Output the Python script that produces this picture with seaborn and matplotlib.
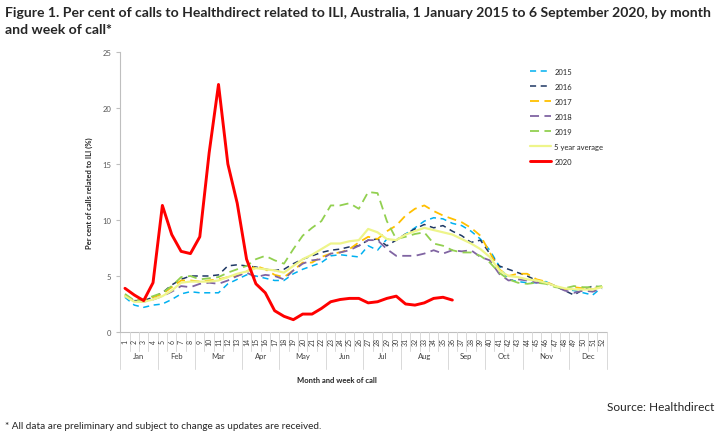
import numpy as np
import pandas as pd
import matplotlib.pyplot as plt
import seaborn as sns

weeks = list(range(1, 53))

y2015 = [3.1, 2.4, 2.2, 2.4, 2.5, 2.9, 3.4, 3.6, 3.5, 3.5, 3.5, 4.3, 4.7, 5.1, 5.0, 4.8,
         4.6, 4.6, 5.2, 5.6, 5.9, 6.2, 6.8, 6.9, 6.8, 6.7, 7.7, 7.3, 8.3, 8.2, 8.75, 9.3,
         9.9, 10.2, 10.1, 9.7, 9.5, 9.0, 8.3, 7.3, 5.9, 4.7, 4.5, 4.4, 4.4, 4.5, 4.1, 3.8,
         3.7, 3.5, 3.3, 4.0]
y2016 = [3.3, 2.8, 2.8, 3.1, 3.5, 4.2, 4.7, 5.0, 5.0, 5.0, 5.1, 5.9, 6.0, 5.9, 5.8, 5.6,
         5.5, 5.6, 6.1, 6.5, 6.8, 7.1, 7.3, 7.4, 7.6, 7.7, 8.2, 8.3, 7.7, 8.2, 8.75, 9.2,
         9.6, 9.3, 9.5, 9.0, 8.6, 8.0, 8.2, 7.0, 5.9, 5.6, 5.3, 5.0, 4.6, 4.4, 4.1, 3.7,
         3.3, 3.8, 4.1, 4.0]
y2017 = [3.3, 2.8, 2.9, 3.1, 3.4, 4.0, 4.6, 4.6, 4.5, 4.6, 4.7, 4.9, 5.0, 5.4, 5.9, 5.6,
         5.1, 4.9, 5.5, 6.2, 6.2, 6.7, 7.0, 7.1, 7.4, 8.0, 8.5, 8.3, 9.0, 9.5, 10.4, 11.0,
         11.3, 10.8, 10.4, 10.1, 9.8, 9.3, 8.6, 7.1, 5.6, 5.0, 5.2, 5.2, 4.7, 4.5, 4.1, 3.8,
         4.0, 3.9, 3.8, 4.1]
y2018 = [3.2, 2.8, 2.7, 2.9, 3.2, 3.6, 4.1, 4.0, 4.3, 4.4, 4.3, 4.6, 5.0, 5.3, 4.9, 5.1,
         5.0, 4.7, 5.5, 6.1, 6.4, 6.5, 7.0, 7.1, 7.3, 7.7, 8.2, 8.2, 7.4, 6.8, 6.8, 6.8,
         7.0, 7.3, 7.0, 7.3, 7.2, 7.3, 6.7, 6.4, 5.2, 4.6, 4.7, 4.6, 4.4, 4.4, 4.1, 3.7,
         3.5, 3.7, 3.6, 3.9]
y2019 = [3.4, 2.8, 2.9, 3.2, 3.5, 4.1, 4.9, 5.0, 4.7, 4.8, 4.9, 5.3, 5.6, 5.9, 6.5, 6.8,
         6.4, 6.1, 7.4, 8.6, 9.3, 9.9, 11.3, 11.3, 11.5, 11.0, 12.5, 12.4, 9.9, 8.3, 8.5, 8.75,
         8.9, 7.9, 7.7, 7.3, 7.1, 7.1, 6.8, 6.2, 5.3, 4.7, 4.4, 4.3, 4.4, 4.3, 4.0, 3.9,
         4.1, 4.0, 4.0, 4.1]
yavg = [3.2, 2.7, 2.7, 2.9, 3.2, 3.7, 4.4, 4.5, 4.5, 4.5, 4.6, 4.9, 5.2, 5.4, 5.7, 5.6,
        5.5, 5.3, 5.9, 6.5, 6.9, 7.4, 7.9, 7.9, 8.1, 8.2, 9.2, 8.9, 8.3, 8.2, 8.7, 9.0,
        9.3, 9.1, 8.9, 8.7, 8.3, 7.9, 7.4, 6.7, 5.5, 5.0, 4.9, 4.7, 4.6, 4.4, 4.1, 3.9,
        3.8, 3.8, 3.8, 4.0]
y2020 = [3.9, 3.3, 2.8, 4.4, 11.3, 8.7, 7.2, 7.0, 8.5, 16.0, 22.1, 15.0, 11.5, 6.5, 4.3, 3.5,
         1.9, 1.4, 1.1, 1.6, 1.6, 2.1, 2.7, 2.9, 3.0, 3.0, 2.6, 2.7, 3.0, 3.2, 2.5, 2.4,
         2.6, 3.0, 3.1, 2.85]

months = ['Jan', 'Feb', 'Mar', 'Apr', 'May', 'Jun', 'Jul', 'Aug', 'Sep', 'Oct', 'Nov', 'Dec']
month_weeks = [4, 4, 5, 4, 5, 4, 4, 5, 4, 4, 5, 4]

series = [
    ('2015', y2015, '#00b0f0', (4, 3), 1.1),
    ('2016', y2016, '#1f3864', (4, 3), 1.1),
    ('2017', y2017, '#ffc000', (5, 3), 1.3),
    ('2018', y2018, '#8064a2', (5, 3), 1.3),
    ('2019', y2019, '#92d050', (5, 3), 1.3),
    ('5 year average', yavg, '#eef58a', None, 1.6),
    ('2020', y2020, '#ff0000', None, 2.1),
]

sns.set_style('white')
plt.rcParams['font.family'] = ['Lato', 'DejaVu Sans']

fig = plt.figure(figsize=(7.22, 4.35), dpi=100)
ax = fig.add_axes([0.1666, 0.2345, 0.6737, 0.6437])

for name, vals, col, dash, lw in series:
    d = pd.DataFrame({'week': weeks[:len(vals)], 'val': vals})
    sns.lineplot(data=d, x='week', y='val', ax=ax, color=col, lw=lw, label=name)
    if dash is not None:
        ax.lines[-1].set_dashes(dash)

ax.set_xlim(0.5, 52.5)
ax.set_ylim(0, 25)
ax.set_yticks(range(0, 26, 5))
ax.tick_params(axis='y', labelsize=5.5, labelcolor='#595959', length=3, color='#bfbfbf', left=True)
ax.set_xticks([])
for s in ['top', 'right', 'bottom']:
    ax.spines[s].set_visible(False)
ax.spines['left'].set_color('#bfbfbf')
ax.spines['left'].set_linewidth(0.8)
ax.axhline(0, color='#bfbfbf', lw=0.8, clip_on=False)
ax.set_xlabel('')
ax.set_ylabel('Per cent of calls related to ILI (%)', fontsize=5.5, fontweight='bold', labelpad=7)

# multi-level category axis (weeks + months)
tr = ax.get_xaxis_transform()
px = 1.0 / 280  # axes fraction per pixel (vertical)
for w in weeks:
    ax.text(w, -9 * px, str(w), transform=tr, rotation=90, ha='center', va='center',
            fontsize=5, color='#404040')
edges = np.cumsum([0] + month_weeks) + 0.5
for w in range(0, 53):
    x = w + 0.5
    bottom = -37 * px if x in edges else -19 * px
    ax.plot([x, x], [0, bottom], transform=tr, color='#d9d9d9', lw=0.7, clip_on=False)
for i, m in enumerate(months):
    ax.text((edges[i] + edges[i + 1]) / 2, -24 * px, m, transform=tr, ha='center', va='center',
            fontsize=5.5, color='#404040')

fig.text(0.467, 1 - 381 / 435, 'Month and week of call', ha='center', va='center',
         fontsize=5.5, fontweight='bold')

leg = ax.legend(loc='upper left', bbox_to_anchor=(523 / 722, 1 - 62 / 435),
                bbox_transform=fig.transFigure, frameon=False, fontsize=5.5,
                handlelength=2.8, labelspacing=1.05, handletextpad=0.4)


def fit_text(x, y, s, width_px, **kw):
    # shrink/grow font so the text spans about width_px, like the narrow original font
    t = fig.text(x, y, s, **kw)
    r = fig.canvas.get_renderer()
    w = t.get_window_extent(r).width
    t.set_fontsize(t.get_fontsize() * width_px / w)
    return t


t1 = fit_text(0.007, 1 - 13 / 435,
              'Figure 1. Per cent of calls to Healthdirect related to ILI, Australia, 1 January 2015 to 6 September 2020, by month',
              706, ha='left', va='center', fontsize=10.5, fontweight='bold')
fig.text(0.007, 1 - 30 / 435, 'and week of call*', ha='left', va='center',
         fontsize=t1.get_fontsize(), fontweight='bold')
fit_text(0.99, 1 - 408 / 435, 'Source: Healthdirect', 107, ha='right', va='center', fontsize=7.5)
fit_text(0.007, 1 - 427 / 435, '* All data are preliminary and subject to change as updates are received.',
         315, ha='left', va='center', fontsize=7.5)

fig.savefig('out.png', dpi=100)
